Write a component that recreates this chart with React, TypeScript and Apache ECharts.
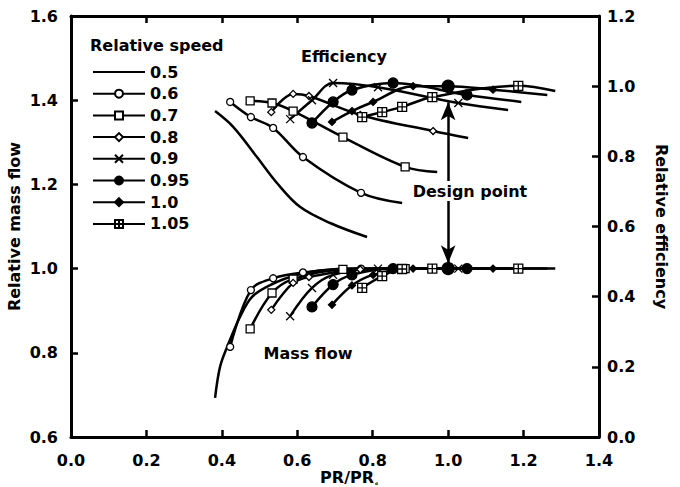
import React, { useEffect, useRef } from "react";
import * as echarts from "echarts";

const FONT = '"DejaVu Sans", Verdana, sans-serif';

// Relative speed lines of the map
const speeds = ["0.5", "0.6", "0.7", "0.8", "0.9", "0.95", "1.0", "1.05"];

// Speed 0.5 (no markers, separate sampling for each curve)
const pr05Mass = [0.382, 0.395, 0.414, 0.448, 0.48, 0.528, 0.599, 0.706, 0.785];
const mass05 = [0.693, 0.766, 0.814, 0.885, 0.933, 0.961, 0.985, 0.999, 1.0];
const pr05Eff = [0.382, 0.43, 0.493, 0.546, 0.607, 0.687, 0.785];
const eff05 = [0.929, 0.884, 0.798, 0.724, 0.656, 0.61, 0.57];

// Operating points for the remaining speeds: PR/PRd, relative mass flow, relative efficiency
const pr06 = [0.422, 0.477, 0.536, 0.615, 0.769, 0.878];
const mass06 = [0.814, 0.949, 0.977, 0.991, 1.0, 1.0];
const eff06 = [0.955, 0.912, 0.881, 0.798, 0.696, 0.667];

const pr07 = [0.475, 0.533, 0.589, 0.721, 0.886, 0.971];
const mass07 = [0.857, 0.942, 0.975, 0.998, 1.0, 1.0];
const eff07 = [0.958, 0.952, 0.929, 0.855, 0.77, 0.755];

const pr08 = [0.531, 0.589, 0.631, 0.767, 0.96, 1.053];
const mass08 = [0.902, 0.966, 0.98, 0.998, 1.0, 1.0];
const eff08 = [0.926, 0.978, 0.972, 0.918, 0.872, 0.852];

const pr09 = [0.581, 0.639, 0.695, 0.814, 1.027, 1.159];
const mass09 = [0.887, 0.954, 0.985, 1.0, 1.0, 1.0];
const eff09 = [0.906, 0.96, 1.009, 0.997, 0.952, 0.932];

const pr095 = [0.639, 0.695, 0.745, 0.854, 1.05, 1.194];
const mass095 = [0.909, 0.962, 0.985, 1.0, 1.0, 1.0];
const eff095 = [0.895, 0.955, 0.989, 1.009, 0.975, 0.955];

const pr10 = [0.692, 0.745, 0.801, 0.907, 1.0, 1.119, 1.263];
const mass10 = [0.914, 0.96, 0.985, 1.0, 1.0, 1.0, 1.0];
const eff10 = [0.898, 0.929, 0.955, 1.0, 1.0, 0.99, 0.975];

const pr105 = [0.772, 0.825, 0.878, 0.958, 1.186, 1.284];
const mass105 = [0.954, 0.982, 0.999, 1.0, 1.0, 1.0];
const eff105 = [0.912, 0.926, 0.941, 0.969, 1.001, 0.986];

// Design point (PR/PRd, relative mass flow, relative efficiency)
const designPoint = [1.0, 1.0, 1.0];

const xTicks = [0, 1.4, 0.2];
const massTicks = [0.6, 1.6, 0.2];
const effTicks = [0, 1.2, 0.2];

type Marker = { symbol: string; size: number; fill: string };
const markers: Record<string, Marker> = {
  "0.5": { symbol: "circle", size: 0, fill: "#000" },
  "0.6": { symbol: "circle", size: 7, fill: "#fff" },
  "0.7": { symbol: "rect", size: 8, fill: "#fff" },
  "0.8": { symbol: "diamond", size: 7, fill: "#fff" },
  "0.9": { symbol: "path://M0,0L10,10M10,0L0,10", size: 8, fill: "#fff" },
  "0.95": { symbol: "circle", size: 10, fill: "#000" },
  "1.0": { symbol: "diamond", size: 7, fill: "#000" },
  "1.05": { symbol: "path://M0,0H10V10H0ZM5,0V10M0,5H10", size: 9, fill: "#fff" },
};

const curves: { name: string; prM: number[]; m: number[]; prE: number[]; e: number[] }[] = [
  { name: "0.5", prM: pr05Mass, m: mass05, prE: pr05Eff, e: eff05 },
  { name: "0.6", prM: pr06, m: mass06, prE: pr06, e: eff06 },
  { name: "0.7", prM: pr07, m: mass07, prE: pr07, e: eff07 },
  { name: "0.8", prM: pr08, m: mass08, prE: pr08, e: eff08 },
  { name: "0.9", prM: pr09, m: mass09, prE: pr09, e: eff09 },
  { name: "0.95", prM: pr095, m: mass095, prE: pr095, e: eff095 },
  { name: "1.0", prM: pr10, m: mass10, prE: pr10, e: eff10 },
  { name: "1.05", prM: pr105, m: mass105, prE: pr105, e: eff105 },
];

function lineSeries(name: string, xs: number[], ys: number[], yAxisIndex: number, isMass: boolean) {
  const mk = markers[name];
  const plain = name === "0.5";
  const data = xs.map((x, i) => {
    const item: any = { value: [x, ys[i]] };
    if (i === xs.length - 1) item.symbol = "none";
    if (name === "1.0" && x === designPoint[0]) {
      item.symbol = "circle";
      item.symbolSize = 12;
      item.itemStyle = { color: "#000", borderColor: "#000" };
    }
    return item;
  });
  const s: any = {
    name,
    type: "line",
    xAxisIndex: 0,
    yAxisIndex,
    data,
    smooth: 0.35,
    showSymbol: !plain,
    showAllSymbol: true,
    symbol: mk.symbol,
    symbolSize: mk.size,
    lineStyle: { color: "#000", width: 2.5 },
    itemStyle: plain
      ? { color: "#000", opacity: 0 }
      : { color: mk.fill, borderColor: "#000", borderWidth: 1.3 },
    emphasis: { disabled: true },
    z: 3,
  };
  if (name === "1.0" && isMass) {
    s.markLine = {
      silent: true,
      symbol: ["arrow", "arrow"],
      symbolSize: [11, 18],
      lineStyle: { color: "#000", width: 2.5, type: "solid" },
      label: { show: false },
      emphasis: { disabled: true },
      data: [[{ coord: [designPoint[0], 1.395] }, { coord: [designPoint[0], 1.013] }]],
    };
  }
  return s;
}

export default function App() {
  const ref = useRef<HTMLDivElement>(null);

  useEffect(() => {
    if (!ref.current) return;
    const chart = echarts.init(ref.current, undefined, { renderer: "svg" });

    const series: any[] = [];
    curves.forEach((c) => {
      series.push(lineSeries(c.name, c.prM, c.m, 0, true));
      series.push(lineSeries(c.name, c.prE, c.e, 1, false));
    });

    const axisLabelStyle = { color: "#000", fontFamily: FONT, fontWeight: "bold" as const, fontSize: 16 };
    const axisLineStyle = { show: true, onZero: false, lineStyle: { color: "#000", width: 3 } };
    const tickStyle = { show: true, inside: true, length: 7, lineStyle: { color: "#000", width: 2.5 } };
    const nameStyle = { color: "#000", fontFamily: FONT, fontWeight: "bold" as const, fontSize: 16 };

    chart.setOption({
      animation: false,
      backgroundColor: "#fff",
      grid: { left: 71, right: 81, top: 16, bottom: 50, containLabel: false, outerBoundsMode: "none" },
      legend: {
        data: speeds,
        orient: "vertical",
        left: 87,
        top: 59,
        itemWidth: 52,
        itemHeight: 10,
        itemGap: 5.7,
        selectedMode: false,
        textStyle: { color: "#000", fontFamily: FONT, fontWeight: "bold", fontSize: 16 },
      },
      xAxis: [
        {
          type: "value",
          position: "bottom",
          min: xTicks[0],
          max: xTicks[1],
          interval: xTicks[2],
          name: "PR/PR{sub|d}",
          nameLocation: "middle",
          nameGap: 32,
          nameMoveOverlap: false,
          nameTextStyle: {
            ...nameStyle,
            padding: [0, 0, 0, 28],
            rich: { sub: { fontSize: 4, lineHeight: 12, fontFamily: FONT, verticalAlign: "bottom", padding: [0, 0, 0, 1] } },
          },
          axisLine: axisLineStyle,
          axisTick: tickStyle,
          splitLine: { show: false },
          axisLabel: { ...axisLabelStyle, margin: 15, formatter: (v: number) => v.toFixed(1) },
        },
        {
          type: "value",
          position: "top",
          min: xTicks[0],
          max: xTicks[1],
          interval: xTicks[2],
          axisLine: axisLineStyle,
          axisTick: tickStyle,
          splitLine: { show: false },
          axisLabel: { show: false },
        },
      ],
      yAxis: [
        {
          type: "value",
          position: "left",
          min: massTicks[0],
          max: massTicks[1],
          interval: massTicks[2],
          name: "Relative mass flow",
          nameLocation: "middle",
          nameGap: 49,
          nameMoveOverlap: false,
          nameTextStyle: nameStyle,
          axisLine: axisLineStyle,
          axisTick: tickStyle,
          splitLine: { show: false },
          axisLabel: { ...axisLabelStyle, margin: 13, formatter: (v: number) => v.toFixed(1) },
        },
        {
          type: "value",
          position: "right",
          min: effTicks[0],
          max: effTicks[1],
          interval: effTicks[2],
          name: "Relative efficiency",
          nameLocation: "middle",
          nameGap: 54,
          nameMoveOverlap: false,
          nameRotate: -90,
          nameTextStyle: nameStyle,
          axisLine: axisLineStyle,
          axisTick: tickStyle,
          splitLine: { show: false },
          axisLabel: { ...axisLabelStyle, margin: 8, formatter: (v: number) => v.toFixed(1) },
        },
      ],
      graphic: [
        {
          type: "text",
          left: 90,
          top: 37,
          style: { text: "Relative speed", fill: "#000", font: `bold 16px ${FONT}` },
        },
        {
          type: "text",
          x: 344,
          y: 56,
          style: { text: "Efficiency", fill: "#000", font: `bold 16px ${FONT}`, align: "center", verticalAlign: "middle" },
        },
        {
          type: "text",
          x: 308,
          y: 353,
          style: { text: "Mass flow", fill: "#000", font: `bold 16px ${FONT}`, align: "center", verticalAlign: "middle" },
        },
        {
          type: "text",
          x: 470,
          y: 191,
          z: 100,
          style: {
            text: "Design point",
            fill: "#000",
            font: `bold 16px ${FONT}`,
            align: "center",
            verticalAlign: "middle",
            backgroundColor: "#fff",
            padding: [2, 2],
          },
        },
      ],
      series,
    });

    return () => chart.dispose();
  }, []);

  return <div ref={ref} style={{ width: 680, height: 487, position: "absolute", left: 0, top: 0 }} />;
}
